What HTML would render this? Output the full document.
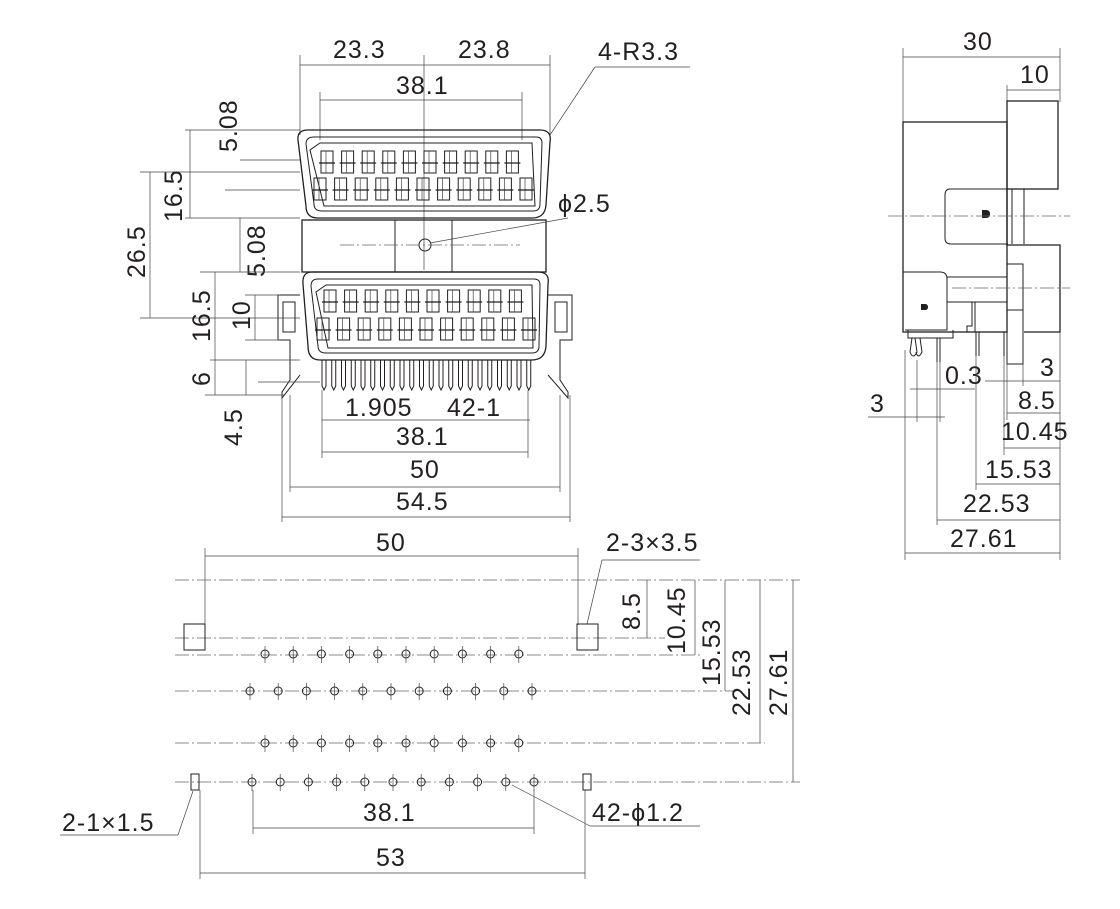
<!DOCTYPE html>
<html><head><meta charset="utf-8"><style>
html,body{margin:0;padding:0;background:#fff;}
svg{display:block;}
text{font-family:"Liberation Sans",sans-serif;font-size:25px;letter-spacing:1px;fill:#231f20;}
.l{stroke:#231f20;stroke-width:1;fill:none;}
.t{stroke:#444;stroke-width:0.7;fill:none;}
.c{stroke:#666;stroke-width:0.7;fill:none;stroke-dasharray:14 3 2 3;}
.b{stroke:#231f20;stroke-width:1.3;fill:none;}
</style></head><body>
<svg id="s" width="1120" height="909" viewBox="0 0 1120 909" xmlns="http://www.w3.org/2000/svg">
<g id="g">
<text x="333" y="58">23.3</text><text x="458" y="58">23.8</text>
<line class="t" x1="300" y1="65" x2="550" y2="65"/>
<line class="t" x1="300" y1="55" x2="300" y2="135"/><line class="t" x1="550" y1="55" x2="550" y2="135"/>
<line class="t" x1="424" y1="55" x2="424" y2="270"/>
<text x="396" y="94">38.1</text>
<line class="t" x1="320" y1="100" x2="522" y2="100"/>
<line class="t" x1="320" y1="92" x2="320" y2="140"/><line class="t" x1="522" y1="92" x2="522" y2="140"/>
<text x="598" y="60">4-R3.3</text>
<line class="t" x1="595" y1="67" x2="690" y2="67"/><line class="t" x1="595" y1="67" x2="550" y2="135"/>
<path class="b" d="M308 130 L540 130 Q552 130 550 142 L546 205 Q545 218 532 218 L318 218 Q306 218 306 206 L298 140 Q297 130 308 130Z"/>
<path class="l" d="M314 137 L536 137 Q542 137 542 143 L540 204 Q540 211 533 211 L322 211 Q314 211 314 204 L306 144 Q306 137 314 137Z"/>
<path class="l" d="M320 143 L532 143 L535 206 L324 206 L310 150Z"/>
<g id="toppins"></g>
<rect class="b" x="302" y="220" width="244" height="52"/>
<line class="l" x1="395" y1="220" x2="395" y2="272"/><line class="l" x1="452" y1="220" x2="452" y2="272"/>
<circle class="l" cx="425" cy="245" r="6"/>
<line class="c" x1="340" y1="245" x2="520" y2="245"/>
<text x="558" y="212">ϕ2.5</text>
<line class="t" x1="430" y1="243" x2="568" y2="218"/>
<path class="b" d="M312 272 L538 272 Q550 272 548 284 L546 346 Q545 360 532 360 L320 360 Q308 360 308 346 L303 284 Q302 272 312 272Z"/>
<path class="l" d="M318 279 L534 279 Q540 279 540 285 L539 346 Q539 353 532 353 L326 353 Q318 353 318 346 L311 286 Q311 279 318 279Z"/>
<path class="l" d="M326 285 L532 285 L533 348 L328 348 L316 292Z"/>
<g id="botpins"></g>
<path class="l" d="M300 295 L278 295 L278 340 L290 340 L290 380 L282 392 L282 398 L300 375"/>
<rect class="l" x="283" y="302" width="12" height="30"/>
<path class="l" d="M548 295 L572 295 L572 340 L560 340 L560 380 L568 392 L568 398 L548 375"/>
<rect class="l" x="555" y="302" width="12" height="30"/>
<g id="legs"></g>
<line class="t" x1="185" y1="130" x2="300" y2="130"/>
<line class="t" x1="185" y1="218" x2="300" y2="218"/>
<line class="t" x1="190" y1="130" x2="190" y2="218"/>
<text transform="translate(237,152) rotate(-90)">5.08</text>
<line class="t" x1="240" y1="160" x2="300" y2="160"/>
<line class="t" x1="225" y1="190" x2="300" y2="190"/>
<text transform="translate(182,222) rotate(-90)">16.5</text>
<line class="t" x1="140" y1="172" x2="300" y2="172"/>
<line class="t" x1="150" y1="172" x2="150" y2="318"/>
<line class="t" x1="140" y1="318" x2="300" y2="318"/>
<text transform="translate(145,278) rotate(-90)">26.5</text>
<text transform="translate(265,277) rotate(-90)">5.08</text>
<line class="t" x1="240" y1="218" x2="240" y2="272"/>
<line class="t" x1="200" y1="272" x2="300" y2="272"/>
<text transform="translate(210,342) rotate(-90)">16.5</text>
<line class="t" x1="215" y1="272" x2="215" y2="360"/>
<line class="t" x1="210" y1="360" x2="300" y2="360"/>
<text transform="translate(250,330) rotate(-90)">10</text>
<line class="t" x1="255" y1="295" x2="255" y2="340"/>
<line class="t" x1="245" y1="295" x2="280" y2="295"/>
<line class="t" x1="245" y1="340" x2="280" y2="340"/>
<text transform="translate(210,386) rotate(-90)">6</text>
<line class="t" x1="215" y1="360" x2="215" y2="395"/>
<line class="t" x1="205" y1="395" x2="285" y2="395"/>
<line class="t" x1="258" y1="382" x2="320" y2="382"/>
<text transform="translate(242,446) rotate(-90)">4.5</text>
<line class="t" x1="246" y1="360" x2="246" y2="395"/>
<text x="345" y="416">1.905</text><text x="447" y="416">42-1</text>
<line class="t" x1="322" y1="420" x2="530" y2="420"/>
<text x="396" y="445">38.1</text>
<line class="t" x1="322" y1="452" x2="528" y2="452"/>
<line class="t" x1="322" y1="390" x2="322" y2="458"/><line class="t" x1="528" y1="390" x2="528" y2="458"/>
<text x="410" y="478">50</text>
<line class="t" x1="290" y1="487" x2="560" y2="487"/>
<line class="t" x1="290" y1="395" x2="290" y2="492"/><line class="t" x1="560" y1="395" x2="560" y2="492"/>
<text x="396" y="510">54.5</text>
<line class="t" x1="282" y1="517" x2="570" y2="517"/>
<line class="t" x1="282" y1="395" x2="282" y2="522"/><line class="t" x1="570" y1="395" x2="570" y2="522"/>

<text x="963" y="50">30</text>
<line class="t" x1="903" y1="57" x2="1060" y2="57"/>
<line class="t" x1="903" y1="48" x2="903" y2="122"/><line class="t" x1="1060" y1="48" x2="1060" y2="102"/>
<text x="1020" y="83">10</text>
<line class="t" x1="1007" y1="90" x2="1060" y2="90"/>
<line class="t" x1="1007" y1="85" x2="1007" y2="102"/>
<rect class="b" x="903" y="122" width="104" height="210"/>
<rect class="b" x="1007" y="101" width="51" height="88"/>
<path class="b" d="M1007 189 L1007 245 L1060 245 L1060 332 L1024 332"/>
<path class="l" d="M1008 189 L950 189 Q945 189 945 195 L945 238 Q945 244 951 244 L1008 244"/>
<line class="l" x1="1012" y1="189" x2="1012" y2="244"/><line class="l" x1="1024" y1="189" x2="1024" y2="244"/>
<path d="M982 210 h4 q4 0 4 4 q0 4 -4 4 h-4z" fill="#231f20"/>
<path class="l" d="M903 272 L940 272 Q947 272 947 279 L947 330 L905 330"/>
<rect class="l" x="947" y="277" width="60" height="25"/>
<path class="l" d="M1007 264 L1023 264 L1023 364 L1007 364 L1007 264"/>
<path class="l" d="M1007 310 L1023 310"/>
<path d="M921 304 h4 q3 0 3 3 q0 3 -3 3 h-4z" fill="#231f20"/>
<line class="c" x1="888" y1="216" x2="1070" y2="216"/>
<line class="c" x1="952" y1="288" x2="1070" y2="288"/>
<path class="l" d="M908 330 L908 338 L953 338 L953 330"/>
<path class="l" d="M912 338 L910 352 Q913 360 917 352 L915 338 M920 338 L922 352 Q918 360 916 352"/>
<line class="l" x1="937" y1="338" x2="937" y2="362"/><line class="l" x1="940" y1="338" x2="940" y2="362"/>
<path class="l" d="M972 302 L972 326 L967 326 L967 332 L975 332 L975 302"/>
<line class="l" x1="976" y1="332" x2="976" y2="356"/><line class="l" x1="979" y1="332" x2="979" y2="356"/>
<line class="l" x1="1004" y1="332" x2="1004" y2="356"/><line class="l" x1="1007" y1="332" x2="1007" y2="356"/>
<text x="1040" y="376">3</text>
<line class="t" x1="985" y1="381" x2="1060" y2="381"/>
<line class="t" x1="1023" y1="364" x2="1023" y2="386"/>
<text x="945" y="384">0.3</text>
<line class="t" x1="910" y1="389" x2="975" y2="389"/>
<text x="870" y="412">3</text>
<line class="t" x1="868" y1="417" x2="945" y2="417"/>
<line class="t" x1="905" y1="350" x2="905" y2="560"/>
<line class="t" x1="917" y1="360" x2="917" y2="422"/>
<line class="t" x1="937" y1="362" x2="937" y2="525"/>
<line class="t" x1="940" y1="362" x2="940" y2="422"/>
<line class="t" x1="976" y1="356" x2="976" y2="490"/>
<line class="t" x1="1004" y1="356" x2="1004" y2="455"/>
<line class="t" x1="1007" y1="364" x2="1007" y2="420"/>
<line class="t" x1="1060" y1="332" x2="1060" y2="560"/>
<text x="1018" y="409">8.5</text>
<line class="t" x1="1007" y1="413" x2="1060" y2="413"/>
<text x="1001" y="440">10.45</text>
<line class="t" x1="1004" y1="448" x2="1060" y2="448"/>
<text x="985" y="478">15.53</text>
<line class="t" x1="976" y1="484" x2="1060" y2="484"/>
<text x="963" y="512">22.53</text>
<line class="t" x1="937" y1="520" x2="1060" y2="520"/>
<text x="950" y="547">27.61</text>
<line class="t" x1="905" y1="553" x2="1060" y2="553"/>

<text x="376" y="551">50</text>
<line class="t" x1="205" y1="556" x2="578" y2="556"/>
<line class="t" x1="205" y1="548" x2="205" y2="625"/><line class="t" x1="578" y1="548" x2="578" y2="625"/>
<text x="606" y="551">2-3×3.5</text>
<line class="t" x1="602" y1="560" x2="700" y2="560"/><line class="t" x1="602" y1="560" x2="587" y2="624"/>
<line class="c" x1="175" y1="580" x2="800" y2="580"/>
<line class="c" x1="175" y1="638" x2="665" y2="638"/>
<line class="c" x1="175" y1="655" x2="700" y2="655"/>
<line class="c" x1="175" y1="691" x2="735" y2="691"/>
<line class="c" x1="175" y1="743" x2="765" y2="743"/>
<line class="c" x1="175" y1="782" x2="800" y2="782"/>
<rect class="l" x="184" y="624" width="21" height="26"/>
<rect class="l" x="577" y="624" width="21" height="26"/>
<rect class="l" x="191" y="774" width="8" height="16"/>
<rect class="l" x="583" y="774" width="8" height="16"/>
<g id="holes"></g>
<text transform="translate(640,630) rotate(-90)">8.5</text>
<line class="t" x1="647" y1="580" x2="647" y2="638"/>
<text transform="translate(685,654) rotate(-90)">10.45</text>
<line class="t" x1="695" y1="580" x2="695" y2="655"/>
<text transform="translate(720,686) rotate(-90)">15.53</text>
<line class="t" x1="725" y1="580" x2="725" y2="691"/>
<text transform="translate(750,716) rotate(-90)">22.53</text>
<line class="t" x1="760" y1="580" x2="760" y2="743"/>
<text transform="translate(787,716) rotate(-90)">27.61</text>
<line class="t" x1="793" y1="580" x2="793" y2="782"/>
<text x="62" y="831">2-1×1.5</text>
<line class="t" x1="60" y1="835" x2="178" y2="835"/><line class="t" x1="178" y1="835" x2="193" y2="791"/>
<text x="363" y="821">38.1</text>
<line class="t" x1="253" y1="828" x2="534" y2="828"/>
<line class="t" x1="253" y1="790" x2="253" y2="834"/><line class="t" x1="534" y1="790" x2="534" y2="834"/>
<text x="592" y="821">42-ϕ1.2</text>
<line class="t" x1="590" y1="826" x2="700" y2="826"/><line class="t" x1="590" y1="826" x2="512" y2="785"/>
<text x="376" y="866">53</text>
<line class="t" x1="200" y1="873" x2="585" y2="873"/>
<line class="t" x1="200" y1="790" x2="200" y2="879"/><line class="t" x1="585" y1="790" x2="585" y2="879"/>
</g>
</svg>
<script>
var NS="http://www.w3.org/2000/svg";
function add(p,tag,a){var e=document.createElementNS(NS,tag);for(var k in a)e.setAttribute(k,a[k]);document.getElementById(p).appendChild(e);}
function pinrow(p,x0,y,n){for(var i=0;i<n;i++){var x=x0+i*20.6;add(p,"rect",{x:x-6,y:y-12,width:12,height:22,class:"l"});add(p,"line",{x1:x-1,y1:y-12,x2:x-1,y2:y+10,class:"t"});add(p,"line",{x1:x-8,y1:y,x2:x+8,y2:y,class:"b"});}}
pinrow("toppins",327,163,10);pinrow("toppins",320,190,11);
pinrow("botpins",330,302,10);pinrow("botpins",323,330,11);
for(var i=0;i<22;i++){var x=324+i*9.75;add("legs","path",{d:"M"+(x-2)+" 360 L"+(x-2)+" 386 L"+x+" 390 L"+(x+2)+" 386 L"+(x+2)+" 360",class:"l"});}
function holes(x0,y,n){for(var i=0;i<n;i++){var x=x0+i*28.2;add("holes","circle",{cx:x,cy:y,r:4,class:"l"});add("holes","line",{x1:x,y1:y-8,x2:x,y2:y+9,class:"t"});}}
holes(265,654,10);holes(250,691,11);holes(265,743,10);holes(252,782,11);
</script>
</body></html>
